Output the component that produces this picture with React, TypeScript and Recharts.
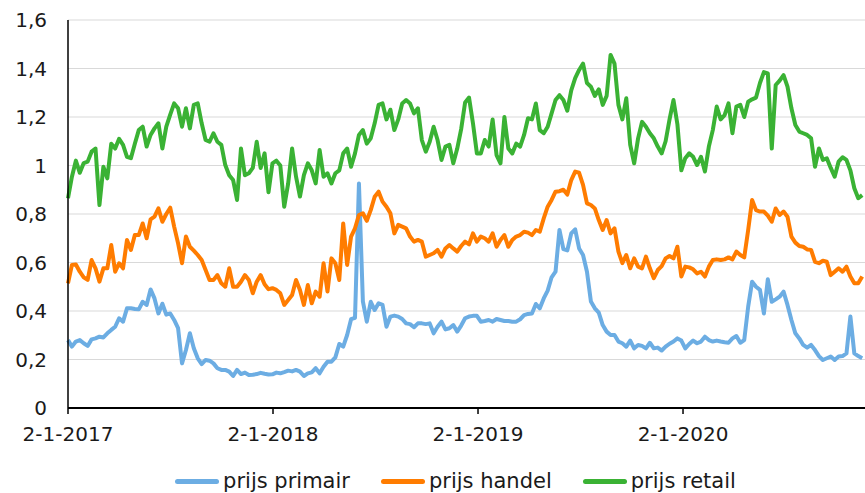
import React from 'react';
import { LineChart, Line, XAxis, YAxis, CartesianGrid, Legend } from 'recharts';

const primair = [
  0.28, 0.253, 0.274, 0.28, 0.267, 0.256, 0.283, 0.287, 0.294, 0.291,
  0.308, 0.322, 0.335, 0.37, 0.356, 0.411, 0.411, 0.408, 0.407, 0.438,
  0.425, 0.489, 0.452, 0.39, 0.43, 0.385, 0.39, 0.363, 0.329, 0.184,
  0.239, 0.308, 0.246, 0.205, 0.181, 0.198, 0.195, 0.184, 0.164, 0.157,
  0.157, 0.15, 0.132, 0.157, 0.14, 0.146, 0.136, 0.137, 0.14, 0.145,
  0.141, 0.138, 0.139, 0.146, 0.143, 0.148, 0.154, 0.151, 0.157, 0.15,
  0.132, 0.143, 0.147, 0.164, 0.143, 0.17, 0.191, 0.191, 0.209, 0.264,
  0.253, 0.301, 0.366, 0.372, 0.926, 0.44, 0.356, 0.438, 0.404, 0.432,
  0.425, 0.335, 0.377, 0.381, 0.377, 0.367, 0.349, 0.346, 0.333, 0.349,
  0.349, 0.346, 0.349, 0.308, 0.335, 0.356, 0.324, 0.329, 0.342, 0.315,
  0.34, 0.37, 0.377, 0.38, 0.38, 0.356, 0.359, 0.363, 0.356, 0.367,
  0.363, 0.359, 0.359, 0.356, 0.356, 0.366, 0.383, 0.388, 0.39, 0.429,
  0.411, 0.452, 0.484, 0.539, 0.562, 0.734, 0.655, 0.65, 0.72, 0.737,
  0.658, 0.631, 0.562, 0.439, 0.411, 0.393, 0.342, 0.315, 0.301, 0.301,
  0.274, 0.267, 0.253, 0.278, 0.246, 0.26, 0.256, 0.246, 0.269, 0.246,
  0.249, 0.237, 0.253, 0.265, 0.274, 0.287, 0.278, 0.246, 0.264, 0.278,
  0.267, 0.274, 0.294, 0.28, 0.274, 0.278, 0.274, 0.271, 0.269, 0.287,
  0.297, 0.269, 0.28, 0.418, 0.521, 0.5, 0.487, 0.39, 0.531, 0.438,
  0.448, 0.459, 0.48, 0.425, 0.363, 0.308, 0.287, 0.26, 0.249, 0.26,
  0.239, 0.214, 0.198, 0.205, 0.212, 0.198, 0.212, 0.214, 0.225, 0.377,
  0.225, 0.214, 0.205,
];

const handel = [
  0.514, 0.59, 0.592, 0.562, 0.539, 0.528, 0.61, 0.576, 0.521, 0.576,
  0.576, 0.672, 0.562, 0.597, 0.576, 0.693, 0.652, 0.713, 0.713, 0.761,
  0.7, 0.778, 0.789, 0.823, 0.768, 0.8, 0.826, 0.748, 0.679, 0.597,
  0.707, 0.665, 0.649, 0.631, 0.61, 0.569, 0.528, 0.528, 0.548, 0.514,
  0.5, 0.576, 0.5, 0.5, 0.521, 0.548, 0.528, 0.473, 0.521, 0.548,
  0.51, 0.49, 0.494, 0.487, 0.473, 0.425, 0.445, 0.466, 0.528, 0.487,
  0.425, 0.507, 0.432, 0.48, 0.459, 0.597, 0.48, 0.617, 0.597, 0.528,
  0.761, 0.59, 0.707, 0.741, 0.796, 0.803, 0.772, 0.816, 0.871, 0.892,
  0.851, 0.83, 0.803, 0.72, 0.755, 0.748, 0.741, 0.707, 0.686, 0.693,
  0.686, 0.624, 0.631, 0.638, 0.652, 0.624, 0.658, 0.672, 0.658, 0.645,
  0.668, 0.686, 0.675, 0.72, 0.686, 0.707, 0.7, 0.686, 0.72, 0.665,
  0.693, 0.713, 0.665, 0.693, 0.707, 0.713, 0.727, 0.723, 0.713, 0.734,
  0.727, 0.782, 0.83, 0.858, 0.892, 0.894, 0.9, 0.88, 0.94, 0.975,
  0.97, 0.92, 0.844, 0.837, 0.823, 0.775, 0.734, 0.775, 0.72, 0.741,
  0.645, 0.597, 0.631, 0.576, 0.617, 0.583, 0.576, 0.624, 0.576, 0.535,
  0.569, 0.585, 0.617, 0.627, 0.617, 0.665, 0.542, 0.583, 0.58, 0.572,
  0.555, 0.562, 0.542, 0.583, 0.61, 0.613, 0.61, 0.613, 0.621, 0.613,
  0.645, 0.631, 0.621, 0.734, 0.858, 0.816, 0.81, 0.81, 0.793, 0.768,
  0.823, 0.796, 0.81, 0.789, 0.707, 0.682, 0.668, 0.665, 0.654, 0.652,
  0.603, 0.597, 0.607, 0.603, 0.548, 0.562, 0.576, 0.562, 0.583, 0.542,
  0.514, 0.514, 0.542,
];

const retail = [
  0.865, 0.954, 1.02, 0.97, 1.01, 1.016, 1.057, 1.07, 0.837, 0.995,
  0.947, 1.09, 1.07, 1.11, 1.085, 1.036, 1.03, 1.09, 1.146, 1.16,
  1.078, 1.126, 1.153, 1.174, 1.07, 1.16, 1.21, 1.256, 1.236, 1.16,
  1.236, 1.153, 1.25, 1.256, 1.174, 1.105, 1.098, 1.133, 1.098, 1.085,
  1.002, 0.96, 0.94, 0.858, 1.07, 0.96, 0.968, 0.99, 1.098, 0.99,
  1.05, 0.89, 1.009, 1.02, 1.0, 0.83, 0.926, 1.07, 0.954, 0.872,
  0.96, 1.009, 0.98, 0.926, 1.064, 0.954, 0.968, 0.926, 0.968, 0.98,
  1.05, 1.07, 0.995, 1.05, 1.126, 1.146, 1.09, 1.112, 1.174, 1.25,
  1.256, 1.19, 1.23, 1.146, 1.19, 1.256, 1.27, 1.256, 1.215, 1.236,
  1.105, 1.057, 1.098, 1.16, 1.105, 1.023, 1.078, 1.085, 1.009, 1.07,
  1.15, 1.26, 1.28, 1.174, 1.05, 1.05, 1.105, 1.078, 1.19, 1.043,
  1.009, 1.2, 1.07, 1.05, 1.09, 1.078, 1.126, 1.195, 1.19, 1.256,
  1.146, 1.133, 1.16, 1.215, 1.27, 1.29, 1.27, 1.226, 1.31, 1.36,
  1.394, 1.42, 1.34, 1.325, 1.287, 1.314, 1.25, 1.287, 1.456, 1.42,
  1.25, 1.19, 1.277, 1.085, 1.009, 1.112, 1.18, 1.16, 1.133, 1.112,
  1.078, 1.05, 1.1, 1.19, 1.27, 1.17, 0.98, 1.03, 1.05, 1.036,
  1.002, 1.036, 0.975, 1.078, 1.146, 1.243, 1.19, 1.208, 1.256, 1.133,
  1.243, 1.25, 1.2, 1.263, 1.273, 1.28, 1.34, 1.385, 1.38, 1.07,
  1.332, 1.35, 1.373, 1.325, 1.236, 1.167, 1.14, 1.133, 1.126, 1.112,
  0.995, 1.07, 1.023, 1.03, 0.99, 0.954, 1.016, 1.034, 1.023, 0.98,
  0.906, 0.865, 0.878,
];

// x in days since 2-1-2017; tick labels at each 2 January
const yearTicks = [0, 365, 730, 1095];
const yearLabels = ['2-1-2017', '2-1-2018', '2-1-2019', '2-1-2020'];
const yTicks = [0, 0.2, 0.4, 0.6, 0.8, 1.0, 1.2, 1.4, 1.6];

const seriesNames = ['prijs primair', 'prijs handel', 'prijs retail'];
const colors = ['#6CADE3', '#FF7C00', '#3AB234'];

const data = primair.map((p, i) => ({
  d: i * 7,
  p,
  h: handel[i],
  r: retail[i],
}));

const FONT = '"DejaVu Sans", Verdana, sans-serif';

const LegendContent = () => (
  <div
    style={{
      display: 'flex',
      justifyContent: 'center',
      alignItems: 'center',
      fontFamily: FONT,
      fontSize: 21,
      color: '#1a1a1a',
      paddingLeft: 46,
      height: 28,
    }}
  >
    {seriesNames.map((n, i) => (
      <div key={n} style={{ display: 'flex', alignItems: 'center', marginRight: i < 2 ? 31 : 0 }}>
        <div
          style={{
            width: 44,
            height: 5,
            borderRadius: 3,
            background: colors[i],
            marginRight: 4,
          }}
        />
        <span>{n}</span>
      </div>
    ))}
  </div>
);

export default function App() {
  return (
    <div style={{ position: 'absolute', left: 0, top: 0, width: 865, height: 493, background: '#fff' }}>
      <LineChart width={865} height={493} data={data} margin={{ top: 20, right: 0, left: 8, bottom: 35 }}>
        <CartesianGrid horizontal vertical={false} stroke="#d9d9d9" strokeWidth={1.2} />
        <XAxis
          dataKey="d"
          type="number"
          domain={[0, 1419]}
          ticks={yearTicks}
          tickFormatter={(v: number) => yearLabels[yearTicks.indexOf(v)] ?? ''}
          axisLine={{ stroke: '#000', strokeWidth: 2 }}
          tickLine={{ stroke: '#000', strokeWidth: 1.5 }}
          tickSize={6}
          tickMargin={13}
          tick={{ fontFamily: FONT, fontSize: 20, fill: '#1a1a1a' }}
          height={50}
          interval={0}
        />
        <YAxis
          type="number"
          domain={[0, 1.6]}
          ticks={yTicks}
          tickFormatter={(v: number) => String(Math.round(v * 10) / 10).replace('.', ',')}
          axisLine={{ stroke: '#000', strokeWidth: 1.5 }}
          tickLine={false}
          tickSize={6}
          tickMargin={15}
          width={60}
          tick={{ fontFamily: FONT, fontSize: 20, fill: '#1a1a1a' }}
          interval={0}
        />
        <Legend
          verticalAlign="middle"
          align="center"
          layout="horizontal"
          content={() => <LegendContent />}
          wrapperStyle={{ position: 'absolute', top: 467, left: 0, width: 865, height: 28 }}
        />
        <Line type="linear" dataKey="p" name={seriesNames[0]} stroke={colors[0]} strokeWidth={4} dot={false} isAnimationActive={false} strokeLinejoin="round" />
        <Line type="linear" dataKey="h" name={seriesNames[1]} stroke={colors[1]} strokeWidth={4} dot={false} isAnimationActive={false} strokeLinejoin="round" />
        <Line type="linear" dataKey="r" name={seriesNames[2]} stroke={colors[2]} strokeWidth={4} dot={false} isAnimationActive={false} strokeLinejoin="round" />
      </LineChart>
    </div>
  );
}
